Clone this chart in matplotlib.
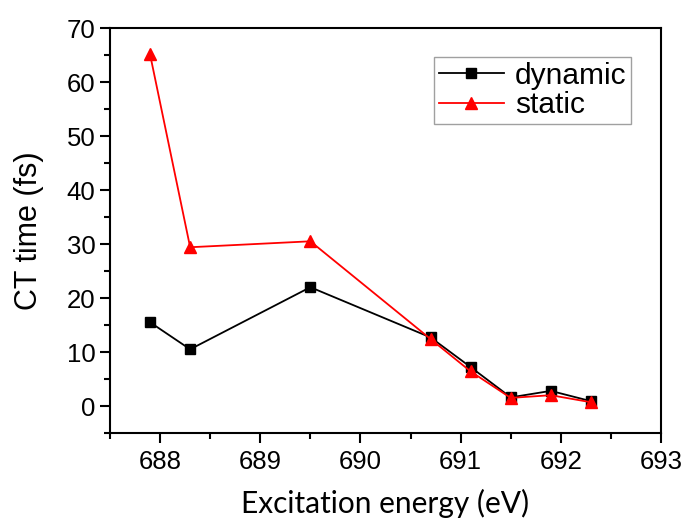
import matplotlib
matplotlib.use("Agg")
from matplotlib import pyplot as plt
from matplotlib.ticker import MultipleLocator

energy = [687.9, 688.3, 689.5, 690.7, 691.1, 691.5, 691.9, 692.3]
dynamic = [15.5, 10.5, 22.0, 12.7, 7.2, 1.6, 2.8, 0.9]
static = [65.1, 29.4, 30.5, 12.4, 6.4, 1.5, 2.0, 0.7]

plt.rcParams['font.family'] = ['Liberation Sans', 'DejaVu Sans']

fig = plt.figure(figsize=(6.86, 5.23), dpi=100)
ax = fig.add_axes([110 / 686, 1 - 433 / 523, 551 / 686, 405 / 523])

ax.plot(energy, dynamic, color='black', marker='s', markersize=7, lw=1.3, label='dynamic')
ax.plot(energy, static, color='red', marker='^', markersize=9, lw=1.3, label='static')

ax.set_xlim(687.5, 693)
ax.set_ylim(-5, 70)
ax.xaxis.set_major_locator(MultipleLocator(1))
ax.xaxis.set_minor_locator(MultipleLocator(0.5))
ax.yaxis.set_major_locator(MultipleLocator(10))
ax.yaxis.set_minor_locator(MultipleLocator(5))
ax.tick_params(which='major', direction='out', length=7, width=1.5, labelsize=18.5)
ax.tick_params(which='minor', direction='out', length=4, width=1.5)
ax.tick_params(axis='x', pad=5)
ax.tick_params(top=False, right=False)
for s in ax.spines.values():
    s.set_linewidth(1.5)

# xlabel kept just inside the bottom edge
ax.set_xlabel('Excitation energy (eV)', fontsize=21.5, family=['Lato', 'DejaVu Sans'], labelpad=11)
ax.set_ylabel('CT time (fs)', fontsize=22, labelpad=16)

leg = ax.legend(loc='upper right', fontsize=21.5, frameon=True, fancybox=False,
                handlelength=2.2, borderpad=0.15, labelspacing=0.05, handletextpad=0.35,
                bbox_to_anchor=(0.972, 0.965))
leg.get_frame().set_edgecolor('#888888')
leg.get_frame().set_linewidth(1.0)

fig.savefig('out.png', dpi=100)
